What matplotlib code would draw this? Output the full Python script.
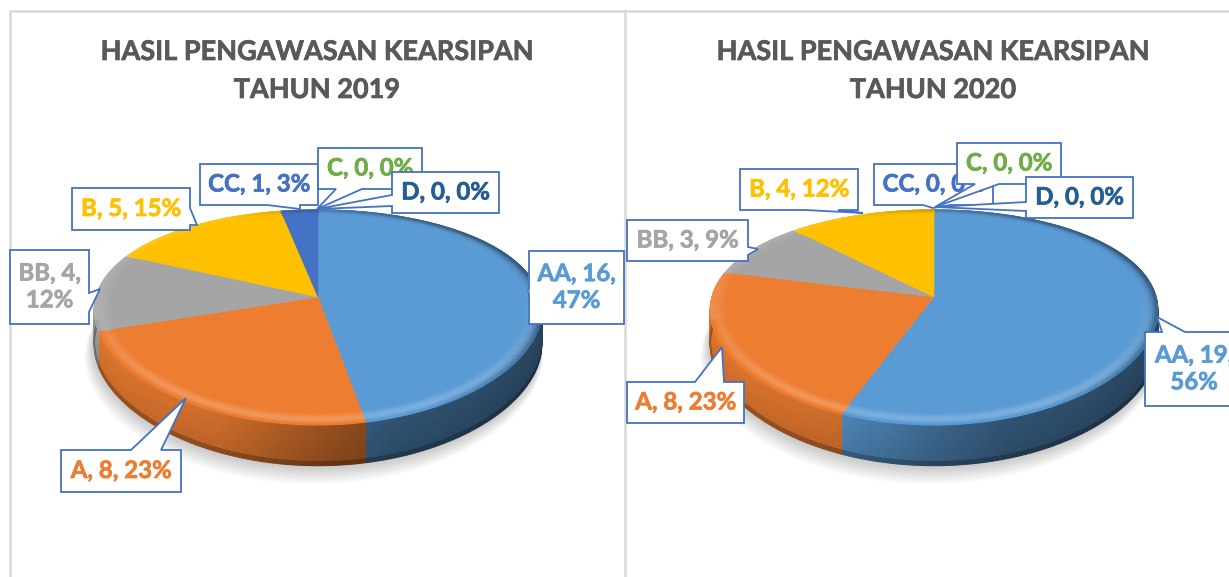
#!/usr/bin/env python
# -*- coding: utf-8 -*-

import numpy as np
import matplotlib
matplotlib.use('Agg')
import matplotlib.pyplot as plt
import matplotlib.patheffects as pe
from matplotlib.collections import PolyCollection
from matplotlib.colors import to_rgb
from matplotlib.patches import Polygon

categories = ['AA', 'A', 'BB', 'B', 'CC', 'C', 'D']
counts_2019 = [16, 8, 4, 5, 1, 0, 0]
pct_2019 = [47, 23, 12, 15, 3, 0, 0]
counts_2020 = [19, 8, 3, 4, 0, 0, 0]
pct_2020 = [56, 23, 9, 12, 0, 0, 0]
colors = ['#5B9BD5', '#ED7D31', '#A5A5A5', '#FFC000', '#4472C4', '#70AD47', '#255E91']
titles = ['HASIL PENGAWASAN KEARSIPAN\nTAHUN 2019', 'HASIL PENGAWASAN KEARSIPAN\nTAHUN 2020']

# pie geometry in pixels
R = 222.0; S = 103.6; K = 0.19; KX = 0.125; DEPTH = 33.0; APEX_Y = 297.0
FONT = 'Lato'
BORDER = '#4472C4'

# callout layout: category -> (x0, y0, x1, y1, edge, base a, base b, tip x, tip y, text)
callouts_2019 = [
    ('CC', 200, 164, 318, 205, 'bottom', 267, 300, 300, 209, None),
    ('B', 72, 188, 190, 230, 'right', 208, 225, 197, 225, None),
    ('BB', 10, 250, 89, 324, 'right', 293, 312, 100, 289, 'BB, 4,\n12%'),
    ('A', 61, 450, 181, 492, 'top', 131, 161, 186, 398, None),
    ('C', 318, 148, 422, 189, 'bottom', 336, 362, 317, 209, None),
    ('D', 392, 172, 499, 213, 'left', 195, 206, 317, 209, None),
    ('AA', 529, 251, 624, 324, 'left', 289, 293, 528, 291, 'AA, 16,\n47%'),
]
callouts_2020 = [
    ('B', 740, 169, 858, 210, 'bottom', 805, 838, 863, 213, None),
    ('BB', 627, 220, 748, 261, 'right', 247, 255, 758, 249, None),
    ('A', 627, 382, 744, 423, 'top', 695, 724, 722, 347, None),
    ('CC', 874, 164, 993, 205, 'bottom', 923, 950, 933, 208, None),
    ('C', 957, 143, 1061, 184, 'bottom', 975, 999, 935, 207, None),
    ('D', 1026, 177, 1133, 218, 'left', 202, 211, 935, 207, None),
    ('AA', 1145, 332, 1243, 406, 'top', 1162, 1185, 1157, 317, 'AA, 19,\n56%'),
]


def project(cx, r, theta, drop=0.0):
    # theta is clockwise from the back of the pie
    u = r * np.sin(theta)
    v = r * np.cos(theta)
    w = 1 + K * v
    return cx + R * u / (1 + KX * v), APEX_Y - S * v / w + drop / w


def wall_shade(u):
    return np.interp(u, [-1, -0.4, 0, 0.3, 1], [0.85, 0.78, 0.58, 0.47, 0.40])


def draw_pie(ax, cx, pct):
    edges = np.radians(np.cumsum([0] + pct) * 3.6)

    # soft shadow under the disc
    th = np.linspace(0, 2 * np.pi, 200)
    for grow in range(1, 10):
        x, y = project(cx, 1 + grow * 0.0025, th, DEPTH + grow * 1.3)
        ax.fill(x - grow * 0.5, y, color='black', alpha=0.022, lw=0, zorder=1)

    wall_q = []; wall_c = []; top_q = []; top_c = []
    strips = np.linspace(0, 1, 11)
    rings = np.linspace(0.93, 1.0, 8)
    for a, b, col in zip(edges[:-1], edges[1:], colors):
        if b <= a:
            continue
        base = np.array(to_rgb(col))
        n = max(int(np.degrees(b - a)), 2)
        th = np.linspace(a, b, n + 1)

        # side wall
        for t0, t1 in zip(th[:-1], th[1:]):
            shade = wall_shade(np.sin((t0 + t1) / 2))
            for s0, s1 in zip(strips[:-1], strips[1:]):
                xa, ya = project(cx, 1, t0, DEPTH * s0)
                xb, yb = project(cx, 1, t1, DEPTH * s0)
                xc, yc = project(cx, 1, t1, DEPTH * s1)
                xd, yd = project(cx, 1, t0, DEPTH * s1)
                wall_q.append([(xa, ya), (xb, yb), (xc, yc), (xd, yd)])
                f = 1.12 - 0.12 * s0 - (0.25 if s1 > 0.95 else 0)
                wall_c.append(np.clip(base * shade * f, 0, 1))

        # flat top
        x, y = project(cx, 0.93, th)
        ax.fill(np.r_[cx, x], np.r_[APEX_Y, y], color=col, lw=0.4, zorder=3)

        # bevelled rim
        for r0, r1 in zip(rings[:-1], rings[1:]):
            t = (r1 - 0.93) / 0.07
            for t0, t1 in zip(th[:-1], th[1:]):
                xa, ya = project(cx, r0, t0)
                xb, yb = project(cx, r0, t1)
                xc, yc = project(cx, r1, t1)
                xd, yd = project(cx, r1, t0)
                top_q.append([(xa, ya), (xb, yb), (xc, yc), (xd, yd)])
                mid = (t0 + t1) / 2
                u = np.sin(mid); v = np.cos(mid)
                front = np.clip(0.2 - v, 0, 1)
                left = np.clip(-u, 0, 1)
                dark = np.clip(u * 0.6 + v * 0.3, 0, 1) * t ** 3 * 0.6
                light = 0.2 * front * np.sin(np.pi * t ** 1.4) + 0.12 * left * t ** 2 * (v > -0.2)
                c = base + (1 - base) * light
                top_c.append(np.clip(c * (1 - dark), 0, 1))

    # a wide edge closes the seams between the small quads
    ax.add_collection(PolyCollection(wall_q, facecolors=wall_c, edgecolors=wall_c, linewidths=0.8, zorder=2))
    ax.add_collection(PolyCollection(top_q, facecolors=top_c, edgecolors=top_c, linewidths=0.8, zorder=4))


def draw_callout(ax, spec, counts, pct, z):
    name, x0, y0, x1, y1, edge, a, b, tx, ty, txt = spec
    i = categories.index(name)
    tip = (tx, ty)
    pts = [(x0, y0)]
    if edge == 'top':
        pts += [(a, y0), tip, (b, y0)]
    pts.append((x1, y0))
    if edge == 'right':
        pts += [(x1, a), tip, (x1, b)]
    pts.append((x1, y1))
    if edge == 'bottom':
        pts += [(b, y1), tip, (a, y1)]
    pts.append((x0, y1))
    if edge == 'left':
        pts += [(x0, b), tip, (x0, a)]
    ax.add_patch(Polygon(pts, closed=True, fc='white', ec=BORDER, lw=1.3, zorder=z))
    if txt is None:
        txt = '%s, %d, %d%%' % (name, counts[i], pct[i])
    t = ax.text((x0 + x1) / 2, (y0 + y1) / 2 - 0.5, txt, color=colors[i], fontsize=17.3, family=FONT,
                weight='bold', ha='center', va='center', linespacing=1.2, zorder=z + 0.1)
    t.set_path_effects([pe.withStroke(linewidth=0.5, foreground=colors[i])])


def main():
    fig = plt.figure(figsize=(12.29, 5.77), dpi=100)
    ax = fig.add_axes([0, 0, 1, 1])
    ax.set_xlim(0, 1229)
    ax.set_ylim(577, 0)
    ax.axis('off')

    # panel frames
    ax.plot([10, 10, 1229], [577, 11, 11], color='#D9D9D9', lw=1.8, zorder=0)
    ax.plot([625, 625], [11, 577], color='#D9D9D9', lw=1.8, zorder=0)

    for cx, title in zip([317, 933], titles):
        t = ax.text(cx, 71, title, color='#595959', fontsize=19.5, family=FONT, weight='bold',
                    ha='center', va='center', linespacing=1.7)
        t.set_path_effects([pe.withStroke(linewidth=0.5, foreground='#595959')])

    draw_pie(ax, 318, pct_2019)
    draw_pie(ax, 934, pct_2020)

    for z, spec in enumerate(callouts_2019):
        draw_callout(ax, spec, counts_2019, pct_2019, 10 + z)
    for z, spec in enumerate(callouts_2020):
        draw_callout(ax, spec, counts_2020, pct_2020, 10 + z)

    fig.savefig('out.png', dpi=100)


if __name__ == '__main__':
    main()
